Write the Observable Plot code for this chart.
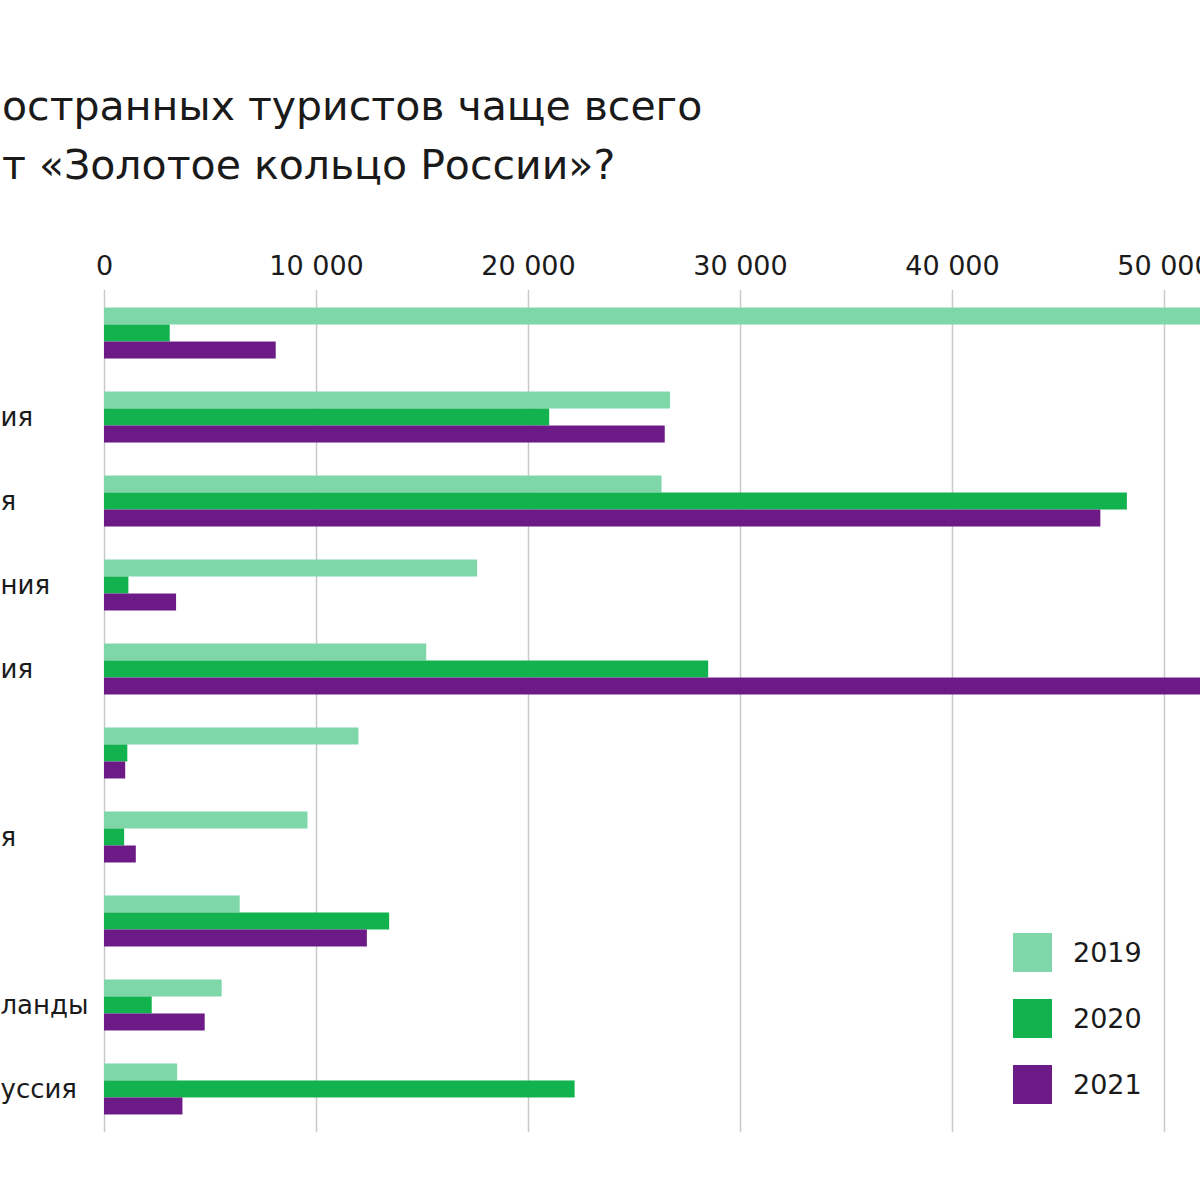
<!DOCTYPE html>
<html>
<head>
<meta charset="utf-8">
<script src="https://cdn.jsdelivr.net/npm/d3@7"></script>
<script src="https://cdn.jsdelivr.net/npm/@observablehq/plot@0.6"></script>
<style>
  html, body { margin: 0; padding: 0; background: #fff; overflow: hidden; width: 1200px; height: 1200px; }
  #wrap { position: relative; width: 1200px; height: 1200px; font-family: "DejaVu Sans", sans-serif; color: #1a1a1a; }
  #title { height: 230px; box-sizing: border-box; padding-top: 77px; font-size: 41px; line-height: 59px; white-space: nowrap; }
  #title div { padding-left: 2px; }
  #chart svg { display: block; }
  #legend { position: absolute; left: 1013px; top: 933px; }
  .row { position: relative; height: 39px; margin-bottom: 27px; }
  .sw { position: absolute; left: 0; top: 0; width: 39px; height: 39px; }
  .lb { position: absolute; left: 60px; top: 0; line-height: 39px; font-size: 27px; }
</style>
</head>
<body>
<div id="wrap">
  <div id="title"></div>
  <div id="chart"></div>
  <div id="legend"></div>
</div>
<script>
// Title (visible part of the cropped reference)
const titleLines = ["остранных туристов чаще всего", "т «Золотое кольцо России»?"];

// Category labels (visible fragments of the cropped reference)
const labels = ["", "ия", "я", "ния", "ия", "", "я", "", "ланды", "уссия"];

// Series
const years = ["2019", "2020", "2021"];
const colors = ["#7fd6a9", "#12b24f", "#6c1a86"];
const v2019 = [56000, 26700, 26300, 17600, 15200, 12000, 9600, 6400, 5550, 3450];
const v2020 = [3100, 21000, 48250, 1150, 28500, 1100, 950, 13450, 2250, 22200];
const v2021 = [8100, 26450, 47000, 3400, 54000, 1000, 1500, 12400, 4750, 3700];

// Axis ticks
const tickValues = [0, 10000, 20000, 30000, 40000, 50000];
const tickLabels = ["0", "10 000", "20 000", "30 000", "40 000", "50 000"];

const series = [v2019, v2020, v2021];
const groups = labels.map((_, i) => i);
const rows = [];
years.forEach((yr, k) => series[k].forEach((v, i) => rows.push({year: yr, group: i, value: v})));
const offsets = [-17, 0, 17];

document.getElementById("title").innerHTML = titleLines.map(t => `<div>${t}</div>`).join("");

const chart = Plot.plot({
  width: 1200,
  height: 970,
  marginTop: 60,
  marginBottom: 68,
  marginLeft: 104,
  marginRight: 0,
  style: {fontFamily: "DejaVu Sans, sans-serif", background: "white", color: "#1a1a1a", overflow: "visible"},
  x: {domain: [0, 51700], axis: null},
  y: {domain: groups, type: "band", round: false, paddingInner: 0.7976, paddingOuter: 0.411, axis: null},
  color: {domain: years, range: colors},
  marks: [
    Plot.ruleX(tickValues, {x: d => d, stroke: "#c9c9c9", strokeWidth: 1.5}),
    ...years.map((yr, k) => Plot.barX(rows.filter(d => d.year === yr), {
      x: "value", y: "group", fill: "year", dy: offsets[k], clip: true
    })),
    Plot.text(tickValues, {x: d => d, text: (d, i) => tickLabels[i], frameAnchor: "top", lineAnchor: "middle", dy: -24, fontSize: 27, fill: "#1a1a1a"}),
    Plot.text(groups, {y: d => d, text: (d, i) => labels[i], frameAnchor: "left", textAnchor: "start", dx: -104, fontSize: 26, fill: "#1a1a1a"})
  ]
});
document.getElementById("chart").appendChild(chart);

document.getElementById("legend").innerHTML = years.map((yr, k) =>
  `<div class="row"><div class="sw" style="background:${colors[k]}"></div><div class="lb">${yr}</div></div>`
).join("");
</script>
</body>
</html>
